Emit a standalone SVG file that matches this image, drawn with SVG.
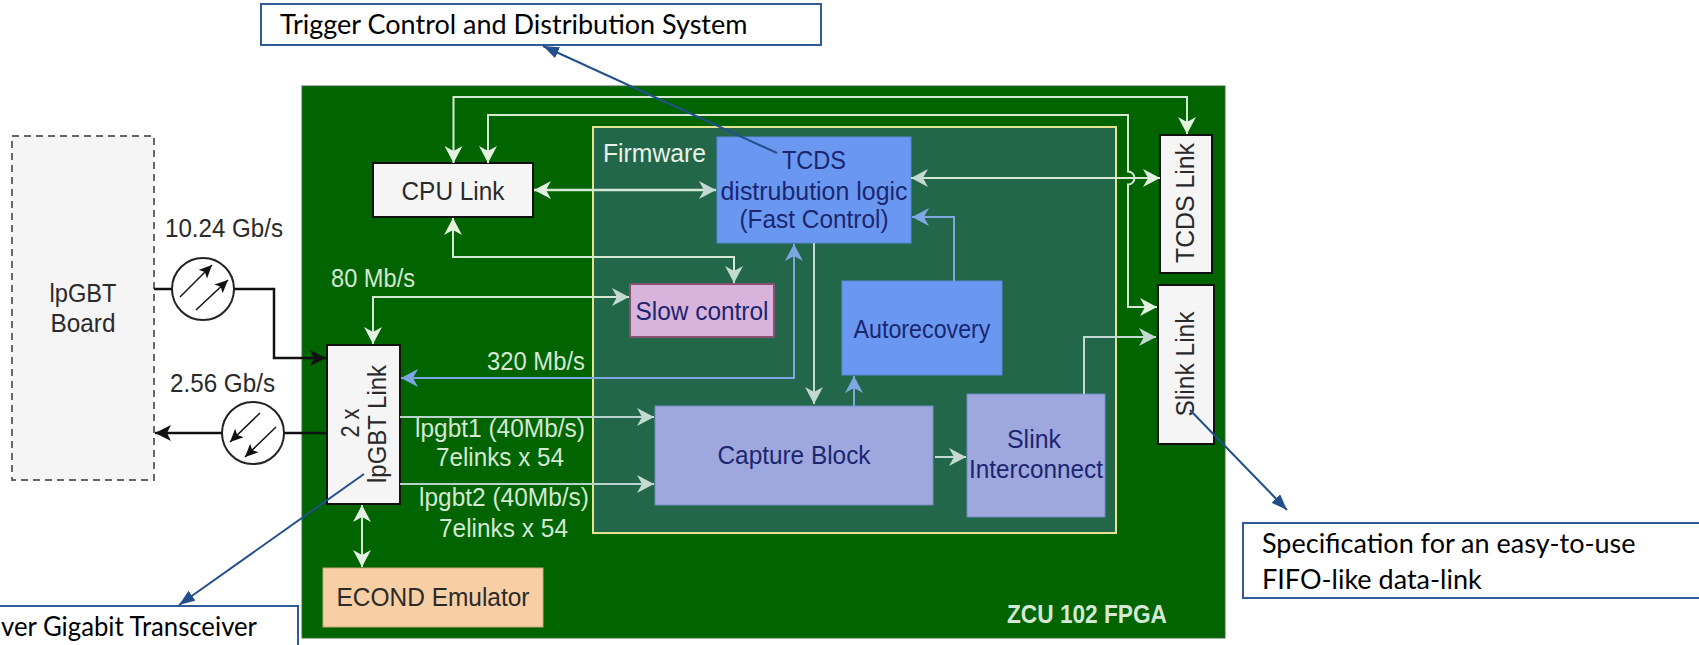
<svg xmlns="http://www.w3.org/2000/svg" width="1699" height="645" viewBox="0 0 1699 645">
<style>
text{font-family:"Liberation Sans",Arial,sans-serif;font-size:25px;fill:#2a2a2a}
.c{text-anchor:middle}
.g{fill:#d5e8d4}
.n{fill:#1b2670}
.lato{font-family:Lato,"Open Sans",sans-serif;font-size:27px;fill:#000}
.call{fill:#fff;stroke:#2f5c96;stroke-width:2}
.blk{fill:none;stroke:#111;stroke-width:2.5}
.lg{fill:none;stroke:#d5e8d4;stroke-width:2}
.pale{fill:none;stroke:#c3d9d2;stroke-width:2}
.blu{fill:none;stroke:#7ea6e0;stroke-width:2}
.nav{fill:none;stroke:#234f8c;stroke-width:2}
.box{fill:#f5f5f5;stroke:#111;stroke-width:2}
.blue{fill:#6a98f0;stroke:#5a86d8;stroke-width:1}
.per{fill:#9fa8de;stroke:#6c8ebf;stroke-width:1}
</style>
<defs>
<marker id="aK" markerUnits="userSpaceOnUse" markerWidth="18" markerHeight="18" refX="16" refY="8" orient="auto-start-reverse"><path d="M0 0L16 8L0 16L4 8Z" fill="#111"/></marker>
<marker id="aK2" markerUnits="userSpaceOnUse" markerWidth="14" markerHeight="14" refX="13" refY="6" orient="auto"><path d="M0 0L13 6L0 12L3 6Z" fill="#111"/></marker>
<marker id="aG" markerUnits="userSpaceOnUse" markerWidth="20" markerHeight="20" refX="17" refY="9" orient="auto-start-reverse"><path d="M0 0L17 9L0 18L5 9Z" fill="#e4f2e2"/></marker>
<marker id="aP" markerUnits="userSpaceOnUse" markerWidth="20" markerHeight="20" refX="17" refY="9" orient="auto-start-reverse"><path d="M0 0L17 9L0 18L5 9Z" fill="#c3d9d2"/></marker>
<marker id="aB" markerUnits="userSpaceOnUse" markerWidth="20" markerHeight="20" refX="17" refY="9" orient="auto-start-reverse"><path d="M0 0L17 9L0 18L5 9Z" fill="#7ea6e0"/></marker>
<marker id="aN" markerUnits="userSpaceOnUse" markerWidth="18" markerHeight="14" refX="16" refY="6" orient="auto"><path d="M0 0L16 6L0 12Z" fill="#234f8c"/></marker>
</defs>
<rect width="1699" height="645" fill="#fff"/>
<g id="fpga"><rect x="302" y="86" width="923" height="552" fill="#006400" stroke="#3a6a3a" stroke-width="1"/><text x="1007" y="623" class="g" style="font-weight:700" textLength="160" lengthAdjust="spacingAndGlyphs">ZCU 102 FPGA</text></g>
<g id="firmware"><rect x="593" y="127" width="523" height="406" fill="#23674a" stroke="#e6e38e" stroke-width="2"/><text x="603" y="162" style="fill:#e8f2e6" textLength="103" lengthAdjust="spacingAndGlyphs">Firmware</text></g>
<g id="board"><rect x="12" y="136" width="142" height="344" fill="#f5f5f5" stroke="#666" stroke-width="2" stroke-dasharray="7 5"/><text x="83" y="302" class="c" textLength="67" lengthAdjust="spacingAndGlyphs">lpGBT</text><text x="83" y="332" class="c" textLength="65" lengthAdjust="spacingAndGlyphs">Board</text></g>
<g id="cpu-link"><rect class="box" x="373" y="163" width="160" height="54"/><text x="453" y="200" class="c" textLength="103" lengthAdjust="spacingAndGlyphs">CPU Link</text></g>
<g id="lpgbt-link"><rect class="box" x="327" y="345" width="73" height="159"/><text transform="translate(359 423) rotate(-90)" class="c" textLength="29" lengthAdjust="spacingAndGlyphs">2 x</text><text transform="translate(386 424) rotate(-90)" class="c" textLength="118" lengthAdjust="spacingAndGlyphs">lpGBT Link</text></g>
<g id="econd"><rect x="323" y="568" width="220" height="59" fill="#f8cfa5" stroke="#c8a878" stroke-width="1"/><text x="433" y="606" class="c" textLength="193" lengthAdjust="spacingAndGlyphs">ECOND Emulator</text></g>
<g id="tcds"><rect class="blue" x="717" y="137" width="194" height="106"/><text x="814" y="169" class="c n" textLength="64" lengthAdjust="spacingAndGlyphs">TCDS</text><text x="814" y="200" class="c n" textLength="187" lengthAdjust="spacingAndGlyphs">distrubution logic</text><text x="814" y="228" class="c n" textLength="149" lengthAdjust="spacingAndGlyphs">(Fast Control)</text></g>
<g id="slow"><rect x="630" y="284" width="144" height="53" fill="#d8b4dc" stroke="#8a5070" stroke-width="2"/><text x="702" y="320" class="c n" textLength="133" lengthAdjust="spacingAndGlyphs">Slow control</text></g>
<g id="auto"><rect class="blue" x="842" y="281" width="160" height="94"/><text x="922" y="338" class="c n" textLength="137" lengthAdjust="spacingAndGlyphs">Autorecovery</text></g>
<g id="capture"><rect class="per" x="655" y="406" width="278" height="99"/><text x="794" y="464" class="c n" textLength="153" lengthAdjust="spacingAndGlyphs">Capture Block</text></g>
<g id="slink-ic"><rect class="per" x="967" y="394" width="138" height="123"/><text x="1034" y="448" class="c n" textLength="54" lengthAdjust="spacingAndGlyphs">Slink</text><text x="1036" y="478" class="c n" textLength="134" lengthAdjust="spacingAndGlyphs">Interconnect</text></g>
<g id="tcds-link"><rect class="box" x="1160" y="135" width="52" height="138"/><text transform="translate(1194 203) rotate(-90)" class="c" textLength="120" lengthAdjust="spacingAndGlyphs">TCDS Link</text></g>
<g id="slink-link"><rect class="box" x="1158" y="285" width="56" height="159"/><text transform="translate(1194 364) rotate(-90)" class="c" textLength="105" lengthAdjust="spacingAndGlyphs">Slink Link</text></g>
<g id="opt1"><circle cx="203" cy="289" r="31" fill="#fff" stroke="#222" stroke-width="2"/><path class="blk" style="stroke-width:1.5" marker-end="url(#aK2)" d="M180 297L212 265"/><path class="blk" style="stroke-width:1.5" marker-end="url(#aK2)" d="M196 310L228 280"/></g>
<g id="opt2"><circle cx="253" cy="433" r="31" fill="#fff" stroke="#222" stroke-width="2"/><path class="blk" style="stroke-width:1.5" marker-end="url(#aK2)" d="M260 413L230 442"/><path class="blk" style="stroke-width:1.5" marker-end="url(#aK2)" d="M276 427L245 457"/></g>
<g id="labels">
<text x="165" y="237" textLength="118" lengthAdjust="spacingAndGlyphs">10.24 Gb/s</text>
<text x="170" y="392" textLength="105" lengthAdjust="spacingAndGlyphs">2.56 Gb/s</text>
<text x="331" y="287" class="g" textLength="84" lengthAdjust="spacingAndGlyphs">80 Mb/s</text>
<text x="487" y="370" class="g" textLength="98" lengthAdjust="spacingAndGlyphs">320 Mb/s</text>
<text x="415" y="437" class="g" textLength="170" lengthAdjust="spacingAndGlyphs">lpgbt1 (40Mb/s)</text>
<text x="436" y="466" class="g" textLength="128" lengthAdjust="spacingAndGlyphs">7elinks x 54</text>
<text x="419" y="506" class="g" textLength="170" lengthAdjust="spacingAndGlyphs">lpgbt2 (40Mb/s)</text>
<text x="439" y="537" class="g" textLength="129" lengthAdjust="spacingAndGlyphs">7elinks x 54</text>
</g>
<g id="connectors">
<path class="blk" d="M154 289H172M234 289H274V358H326" marker-end="url(#aK)"/>
<path class="blk" d="M327 433H284M222 433H155" marker-end="url(#aK)"/>
<path class="lg" d="M453.500 163V97H1187V134" marker-start="url(#aG)" marker-end="url(#aG)"/>
<path class="lg" d="M488 163V115H1128V171.500A6.500 6.500 0 0 1 1128 184.500V307H1157" marker-start="url(#aG)" marker-end="url(#aG)"/>
<path class="lg" style="stroke-width:2.500" d="M534 190H716" marker-start="url(#aG)" marker-end="url(#aP)"/>
<path class="lg" d="M911 178H1160" marker-start="url(#aP)" marker-end="url(#aG)"/>
<path class="lg" d="M453 218V257H734V283" marker-start="url(#aG)" marker-end="url(#aP)"/>
<path class="lg" d="M373 344V297H629" marker-start="url(#aG)" marker-end="url(#aP)"/>
<path class="blu" d="M401 378H794V244" marker-start="url(#aB)" marker-end="url(#aB)"/>
<path class="pale" d="M814 243V404" marker-end="url(#aP)"/>
<path class="blu" d="M954 281V217H912" marker-end="url(#aB)"/>
<path class="blu" d="M854 406V376" marker-end="url(#aB)"/>
<path class="lg" style="stroke:#b9d3cc" d="M400 417H654" marker-end="url(#aP)"/>
<path class="lg" style="stroke:#b9d3cc" d="M400 484H654" marker-end="url(#aP)"/>
<path class="pale" d="M935 457H966" marker-end="url(#aP)"/>
<path class="pale" d="M1084 394V337H1156" marker-end="url(#aP)"/>
<path class="lg" d="M362 505V567" marker-start="url(#aG)" marker-end="url(#aG)"/>
</g>
<g id="callout-top"><rect class="call" x="261" y="4" width="560" height="41"/><text x="280" y="34" class="lato">Trigger Control and Distribution System</text></g>
<g id="callout-left"><rect class="call" x="-10" y="606" width="308" height="60"/><text x="1" y="636" class="lato" textLength="256" lengthAdjust="spacingAndGlyphs">ver Gigabit Transceiver</text></g>
<g id="callout-right"><rect class="call" x="1243" y="523" width="470" height="75"/><text x="1262" y="553" class="lato">Specification for an easy-to-use</text><text x="1262" y="589" class="lato">FIFO-like data-link</text></g>
<g id="callout-connectors">
<path class="nav" d="M777 153L543 46" marker-end="url(#aN)"/>
<path class="nav" d="M364 474L179 605" marker-end="url(#aN)"/>
<path class="nav" d="M1190 410L1287 510" marker-end="url(#aN)"/>
</g>
</svg>
